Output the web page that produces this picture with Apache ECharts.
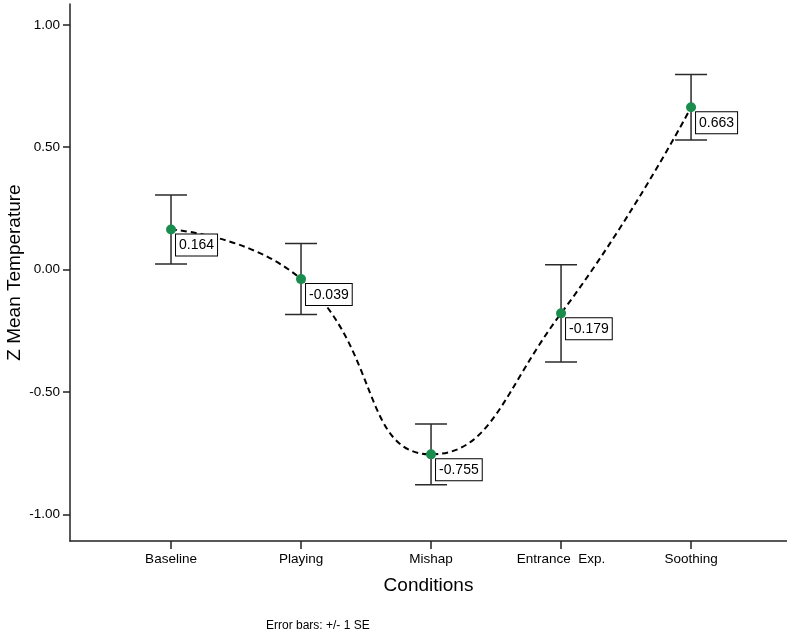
<!DOCTYPE html>
<html>
<head>
<meta charset="utf-8">
<script src="https://cdn.jsdelivr.net/npm/echarts@6/dist/echarts.min.js"></script>
<style>html,body{margin:0;padding:0;background:#fff;}#chart{width:787px;height:633px;}</style>
</head>
<body>
<div id="chart"></div>
<script>
const categories = ['Baseline', 'Playing', 'Mishap', 'Entrance  Exp.', 'Soothing'];
const means = [0.164, -0.039, -0.755, -0.179, 0.663];
const se = [0.141, 0.145, 0.124, 0.199, 0.134];
const yTicks = [-1.0, -0.5, 0.0, 0.5, 1.0];
const catIdx = categories.map((c, i) => i);

const lineData = means.map((m, i) => [i, m]);
const errData = means.map((m, i) => [i, m - se[i], m + se[i]]);

const FONT = 'Liberation Sans, Arial, sans-serif';
const chart = echarts.init(document.getElementById('chart'), null, {renderer: 'canvas'});
chart.setOption({
  backgroundColor: '#fff',
  animation: false,
  title: {
    text: 'Error bars: +/- 1 SE',
    left: 261, top: 615,
    textStyle: {fontFamily: FONT, fontSize: 12, fontWeight: 'normal', color: '#000'}
  },
  grid: {left: 70, right: 0, top: 4, bottom: 92, containLabel: false, outerBoundsMode: 'none'},
  xAxis: {
    type: 'value',
    min: -0.777, max: 4.738,
    name: 'Conditions',
    nameLocation: 'middle',
    nameGap: 35,
    nameMoveOverlap: false,
    nameTextStyle: {fontFamily: FONT, fontSize: 19, color: '#000'},
    axisLine: {show: true, onZero: false, lineStyle: {color: '#222', width: 1.5}},
    axisTick: {show: true, customValues: catIdx, length: 8, lineStyle: {color: '#222', width: 1.5}},
    axisLabel: {customValues: catIdx, margin: 11, fontFamily: FONT, fontSize: 13.5, color: '#000',
      formatter: v => categories[Math.round(v)] || ''},
    splitLine: {show: false}
  },
  yAxis: {
    type: 'value',
    min: -1.109, max: 1.085,
    name: 'Z Mean Temperature',
    nameLocation: 'middle',
    nameGap: 46,
    nameMoveOverlap: false,
    nameTextStyle: {fontFamily: FONT, fontSize: 19, color: '#000'},
    axisLine: {show: true, onZero: false, lineStyle: {color: '#222', width: 1.5}},
    axisTick: {show: true, customValues: yTicks, length: 7, lineStyle: {color: '#222', width: 1.5}},
    axisLabel: {customValues: yTicks, margin: 10, fontFamily: FONT, fontSize: 13.5, color: '#000',
      formatter: v => v.toFixed(2)},
    splitLine: {show: false}
  },
  series: [
    {
      type: 'custom',
      z: 1,
      data: errData,
      renderItem: function (params, api) {
        const x = api.value(0);
        const lo = api.coord([x, api.value(1)]);
        const hi = api.coord([x, api.value(2)]);
        const hw = 16;
        const style = {stroke: '#2a2a2a', lineWidth: 1.5};
        return {
          type: 'group',
          children: [
            {type: 'line', shape: {x1: lo[0], y1: lo[1], x2: hi[0], y2: hi[1]}, style: style},
            {type: 'line', shape: {x1: hi[0] - hw, y1: hi[1], x2: hi[0] + hw, y2: hi[1]}, style: style},
            {type: 'line', shape: {x1: lo[0] - hw, y1: lo[1], x2: lo[0] + hw, y2: lo[1]}, style: style}
          ]
        };
      }
    },
    {
      type: 'line',
      z: 3,
      data: lineData,
      smooth: 0.5,
      symbol: 'circle',
      symbolSize: 10,
      itemStyle: {color: '#1a8c4e'},
      lineStyle: {color: '#000', width: 2, type: [6, 4]},
      label: {
        show: true,
        position: [10, 10],
        formatter: p => p.value[1].toFixed(3),
        fontFamily: FONT, fontSize: 14, color: '#000',
        backgroundColor: '#fff', borderColor: '#000', borderWidth: 1,
        padding: [4, 3, 3, 3]
      }
    }
  ]
});
</script>
</body>
</html>
